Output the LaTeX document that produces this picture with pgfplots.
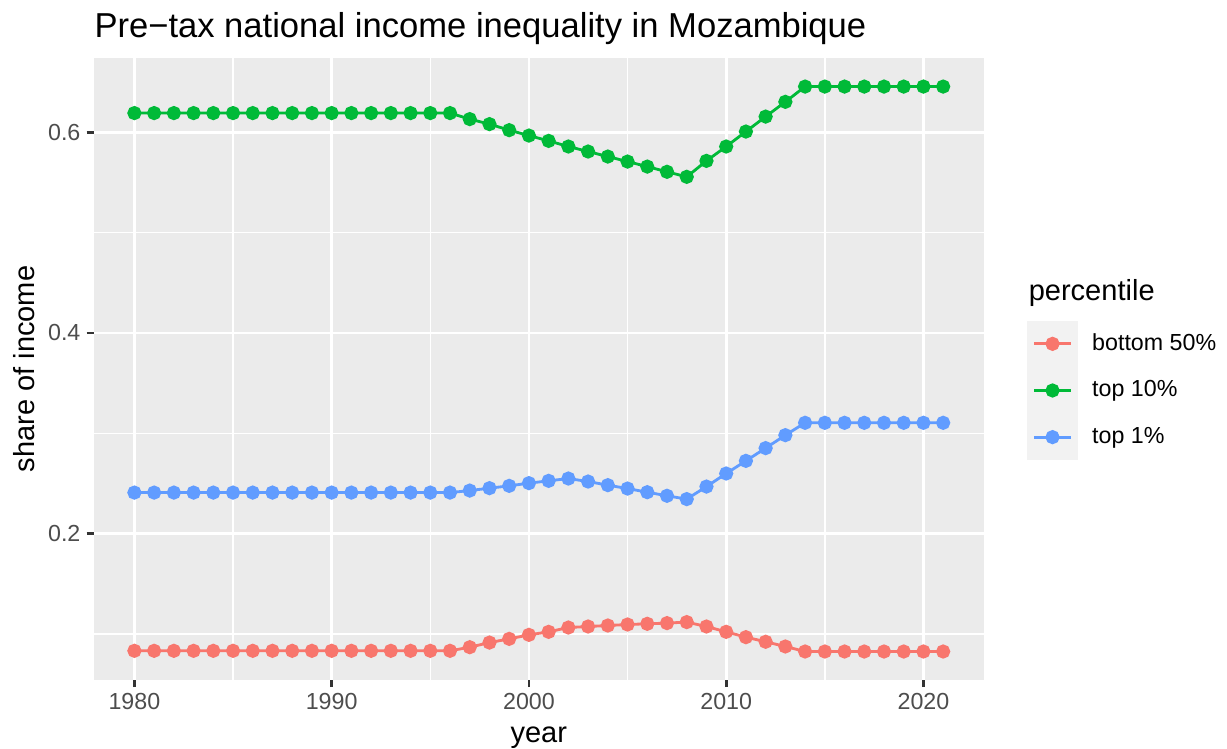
\documentclass[border=0pt]{standalone}
\usepackage{fontspec}
\setmainfont{Liberation Sans}
\usepackage{pgfplots}
\usepackage{pgfplotstable}
\pgfplotsset{compat=1.18}
\definecolor{cred}{HTML}{F8766D}
\definecolor{cgreen}{HTML}{00BA38}
\definecolor{cblue}{HTML}{619CFF}
\definecolor{panelbg}{HTML}{EBEBEB}
\definecolor{keybg}{HTML}{F2F2F2}
\definecolor{grey30}{HTML}{4D4D4D}
\definecolor{grey20}{HTML}{333333}
\pgfplotstableread{
year b50 t10 t1
1980 0.0834 0.619 0.241
1981 0.0834 0.619 0.241
1982 0.0834 0.619 0.241
1983 0.0834 0.619 0.241
1984 0.0834 0.619 0.241
1985 0.0834 0.619 0.241
1986 0.0834 0.619 0.241
1987 0.0834 0.619 0.241
1988 0.0834 0.619 0.241
1989 0.0834 0.619 0.241
1990 0.0834 0.619 0.241
1991 0.0834 0.619 0.241
1992 0.0834 0.619 0.241
1993 0.0834 0.619 0.241
1994 0.0834 0.619 0.241
1995 0.0834 0.619 0.241
1996 0.0834 0.619 0.241
1997 0.0870 0.613 0.2430
1998 0.0916 0.608 0.2454
1999 0.0953 0.602 0.2477
2000 0.0993 0.5966 0.2504
2001 0.1023 0.5913 0.2527
2002 0.1066 0.5857 0.2550
2003 0.1076 0.5807 0.2520
2004 0.1086 0.5757 0.2484
2005 0.1096 0.5707 0.2450
2006 0.1103 0.5657 0.2414
2007 0.1110 0.5605 0.2378
2008 0.1120 0.5555 0.2345
2009 0.1076 0.5714 0.2470
2010 0.1023 0.5857 0.2600
2011 0.0970 0.6006 0.2726
2012 0.0924 0.6155 0.2853
2013 0.0877 0.6302 0.2982
2014 0.0827 0.6454 0.3105
2015 0.0827 0.6454 0.3105
2016 0.0827 0.6454 0.3105
2017 0.0827 0.6454 0.3105
2018 0.0827 0.6454 0.3105
2019 0.0827 0.6454 0.3105
2020 0.0827 0.6454 0.3105
2021 0.0827 0.6454 0.3105
}\data
\begin{document}
\begin{tikzpicture}
\path[use as bounding box] (-35.6pt,-26.2pt) rectangle (429.2pt,257.5pt);
\begin{axis}[
  at={(0pt,0pt)}, anchor=south west,
  scale only axis, width=337pt, height=235.4pt,
  xmin=1977.95, xmax=2023.05, ymin=0.05456, ymax=0.67354,
  axis background/.style={fill=panelbg},
  axis lines*=left, axis line style={draw=none,-},
  xtick={1980,1990,2000,2010,2020}, ytick={0.2,0.4,0.6},
  minor xtick={1985,1995,2005,2015}, minor ytick={0.1,0.3,0.5},
  grid=both,
  major grid style={white, line width=1.07pt},
  minor grid style={white, line width=0.53pt},
  tick align=outside, major tick length=2.75pt, minor tick length=0pt,
  tick style={grey20, line width=1.07pt},
  /pgf/number format/assume math mode=true,
  tick label style={font=\fontsize{8.8}{10}\selectfont, text=grey30, inner sep=0pt},
  xticklabel shift=2.2pt, yticklabel shift=2.2pt,
  xticklabel style={/pgf/number format/1000 sep={}},
  yticklabel style={/pgf/number format/fixed, /pgf/number format/precision=1},
  xlabel={year}, ylabel={share of income},
  every axis x label/.style={at={(axis description cs:0.5,-0.1013)}, anchor=base, font=\fontsize{11}{13}\selectfont, inner sep=0pt},
  every axis y label/.style={at={(axis description cs:-0.06706,0.5)}, rotate=90, anchor=base, font=\fontsize{11}{13}\selectfont, inner sep=0pt},
  legend cell align=left,
  legend style={draw=none, fill=none, at={(1.0492,0.5781)}, anchor=north west,
    inner sep=0pt, outer sep=0pt, row sep=0pt, column sep=5.5pt,
    font=\fontsize{8.8}{10}\selectfont, nodes={inner sep=0pt}},
  legend image code/.code={
    \fill[keybg] (0pt,-8.3pt) rectangle (18pt,8.3pt);
    \draw[mark repeat=2,mark phase=2,#1, line width=1.07pt] plot coordinates {(2pt,0pt) (9pt,0pt) (16pt,0pt)};
  },
]
\addplot[color=cred, line width=1.07pt, mark=*, mark size=2.15pt, mark options={solid, draw=none, fill=cred}] table[x=year, y=b50] {\data};
\addlegendentry{bottom 50\%}
\addplot[color=cgreen, line width=1.07pt, mark=*, mark size=2.15pt, mark options={solid, draw=none, fill=cgreen}] table[x=year, y=t10] {\data};
\addlegendentry{top 10\%}
\addplot[color=cblue, line width=1.07pt, mark=*, mark size=2.15pt, mark options={solid, draw=none, fill=cblue}] table[x=year, y=t1] {\data};
\addlegendentry{top 1\%}
\end{axis}
\node[anchor=base west, inner sep=0pt, font=\fontsize{13.1}{15}\selectfont] at (0pt,243.4pt) {Pre−tax national income inequality in Mozambique};
\node[anchor=base west, inner sep=0pt, font=\fontsize{11}{13}\selectfont] at (353.9pt,143.6pt) {percentile};
\end{tikzpicture}
\end{document}
